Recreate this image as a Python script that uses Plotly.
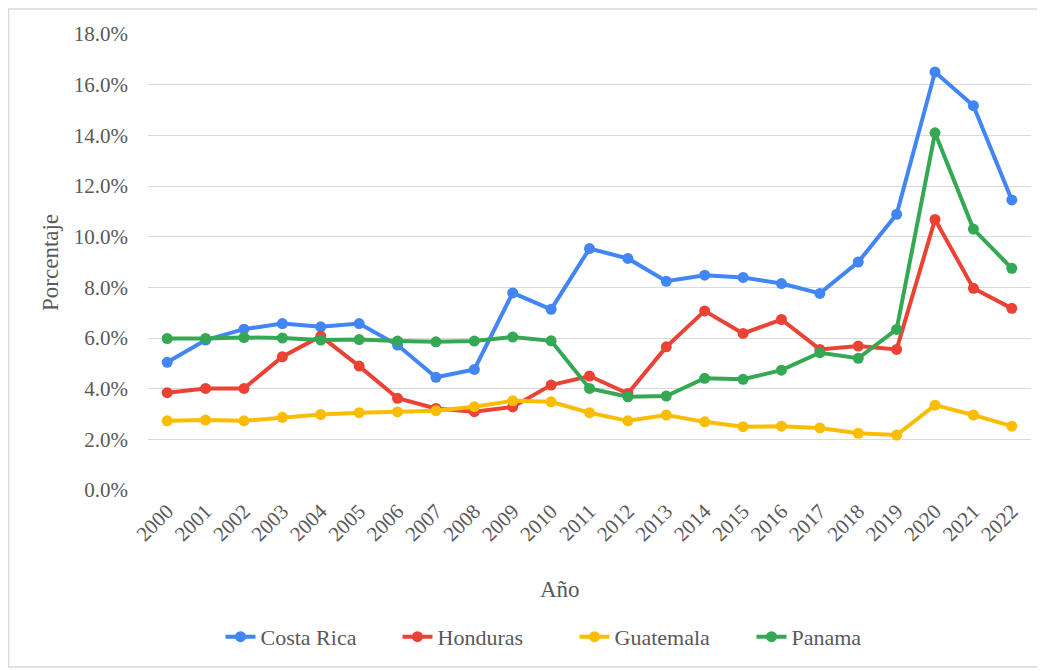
import plotly.graph_objects as go

years = [str(y) for y in range(2000, 2023)]
costa_rica = [5.04, 5.92, 6.35, 6.57, 6.44, 6.57, 5.72, 4.45, 4.76, 7.78, 7.13, 9.53, 9.14, 8.24, 8.48, 8.39, 8.15, 7.76, 9.0, 10.88, 16.5, 15.17, 11.45]
honduras = [3.84, 4.01, 4.01, 5.26, 6.07, 4.89, 3.62, 3.22, 3.09, 3.28, 4.14, 4.5, 3.81, 5.65, 7.07, 6.18, 6.73, 5.55, 5.68, 5.55, 10.68, 7.96, 7.17]
guatemala = [2.73, 2.76, 2.73, 2.87, 2.98, 3.05, 3.08, 3.13, 3.29, 3.52, 3.48, 3.05, 2.73, 2.96, 2.69, 2.5, 2.52, 2.45, 2.24, 2.17, 3.35, 2.96, 2.52]
panama = [5.98, 5.98, 6.02, 6.0, 5.92, 5.94, 5.88, 5.85, 5.88, 6.04, 5.89, 4.01, 3.68, 3.71, 4.41, 4.37, 4.73, 5.42, 5.2, 6.34, 14.1, 10.3, 8.75]

series = [
    ("Costa Rica", costa_rica, "#4285F4"),
    ("Honduras", honduras, "#EA4335"),
    ("Guatemala", guatemala, "#FBBC04"),
    ("Panama", panama, "#34A853"),
]

FONT = "Liberation Serif"
GRAY = "#595959"

fig = go.Figure()
for name, vals, color in series:
    fig.add_trace(go.Scatter(
        x=years, y=vals, name=name, mode="lines+markers",
        line=dict(color=color, width=4),
        marker=dict(color=color, size=11),
    ))

fig.update_layout(
    width=1037, height=663,
    margin=dict(l=140, r=14, t=26, b=181),
    paper_bgcolor="white", plot_bgcolor="white",
    font=dict(family=FONT, color=GRAY, size=21),
    showlegend=True,
    legend=dict(orientation="h", x=0.483, xanchor="center", y=-0.322, yanchor="middle",
                font=dict(family=FONT, size=22, color=GRAY),
                entrywidth=132, traceorder="normal"),
    xaxis=dict(type="category", range=[-0.5, 22.5], tickangle=-45, showgrid=False,
               showline=False, ticks="", ticklabelstandoff=4,
               tickfont=dict(family=FONT, size=21, color=GRAY)),
    yaxis=dict(range=[0, 18], dtick=2, tickformat=".1f", ticksuffix="%",
               showgrid=True, gridcolor="#d9d9d9", gridwidth=1, zeroline=False,
               showline=False, ticks="", ticklabelstandoff=19,
               tickfont=dict(family=FONT, size=21, color=GRAY)),
    annotations=[
        dict(text="Año", xref="paper", yref="paper", x=0.467, y=-0.219,
             yanchor="middle", showarrow=False, font=dict(family=FONT, size=23, color=GRAY)),
        dict(text="Porcentaje", xref="paper", yref="paper", x=-0.111, y=0.5,
             xanchor="center", textangle=-90, showarrow=False,
             font=dict(family=FONT, size=23, color=GRAY)),
    ],
    shapes=[dict(type="rect", xref="paper", yref="paper", x0=-0.158, x1=1.010,
                 y0=-0.388, y1=1.055, line=dict(color="#d9d9d9", width=1.5))],
)

fig.write_html("out.html")
